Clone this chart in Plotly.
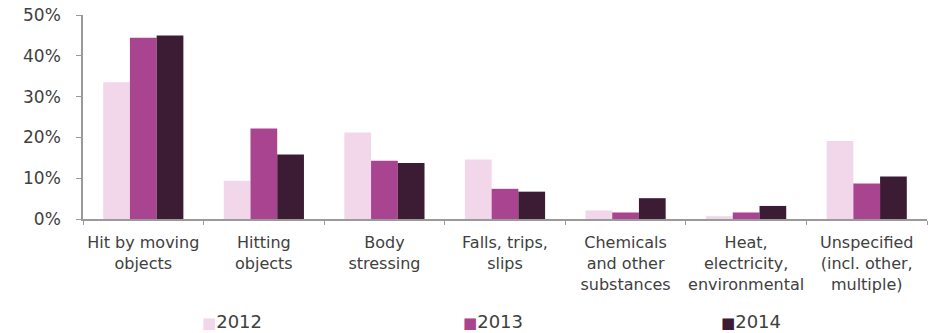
import plotly.graph_objects as go

categories = [
    "Hit by moving<br>objects",
    "Hitting<br>objects",
    "Body<br>stressing",
    "Falls, trips,<br>slips",
    "Chemicals<br>and other<br>substances",
    "Heat,<br>electricity,<br>environmental",
    "Unspecified<br>(incl. other,<br>multiple)",
]
years = ["2012", "2013", "2014"]
values_2012 = [33.5, 9.4, 21.2, 14.6, 2.1, 0.7, 19.1]
values_2013 = [44.4, 22.2, 14.3, 7.4, 1.6, 1.6, 8.7]
values_2014 = [45.0, 15.8, 13.7, 6.7, 5.1, 3.2, 10.4]
colors = ["#F2D7EA", "#A94491", "#3C1B34"]
y_ticks = [0, 10, 20, 30, 40, 50]

series = [values_2012, values_2013, values_2014]

fig = go.Figure()
for name, vals, col in zip(years, series, colors):
    fig.add_trace(go.Bar(
        x=categories, y=vals, name=name,
        marker=dict(color=col, line=dict(width=0)),
        showlegend=False,
    ))

# legend drawn as a row of coloured squares followed by the year
legend_x = [0.1386, 0.4479, 0.7536]
for name, col, lx in zip(years, colors, legend_x):
    fig.add_annotation(
        x=lx, y=-0.5, xref="paper", yref="paper",
        xanchor="left", yanchor="middle", showarrow=False,
        text=f"<span style='color:{col};font-size:15px'>■</span>{name}",
        font=dict(family="DejaVu Sans", size=18, color="#404040"),
    )

axis_col = "#9a9a9a"
fig.update_layout(
    width=933, height=333,
    margin=dict(l=83, r=6, t=15, b=114),
    paper_bgcolor="white", plot_bgcolor="white",
    barmode="group", bargap=0.335, bargroupgap=0,
    font=dict(family="DejaVu Sans", color="#404040"),
    xaxis=dict(
        showline=True, linecolor=axis_col, linewidth=1.5,
        ticks="outside", tickson="boundaries", ticklen=4,
        tickcolor=axis_col, tickwidth=1, tickangle=0,
        tickfont=dict(family="DejaVu Sans", size=16, color="#404040"),
        ticklabelstandoff=8,
        showgrid=False,
    ),
    yaxis=dict(
        range=[0, 50], tickvals=y_ticks,
        ticktext=[f"{v}%" for v in y_ticks],
        showline=True, linecolor=axis_col, linewidth=1.5,
        ticks="outside", ticklen=5, tickcolor=axis_col, tickwidth=1,
        tickfont=dict(family="DejaVu Sans", size=17, color="#404040"),
        ticklabelstandoff=12,
        showgrid=False, zeroline=False,
    ),
)

fig.write_html("out.html")
